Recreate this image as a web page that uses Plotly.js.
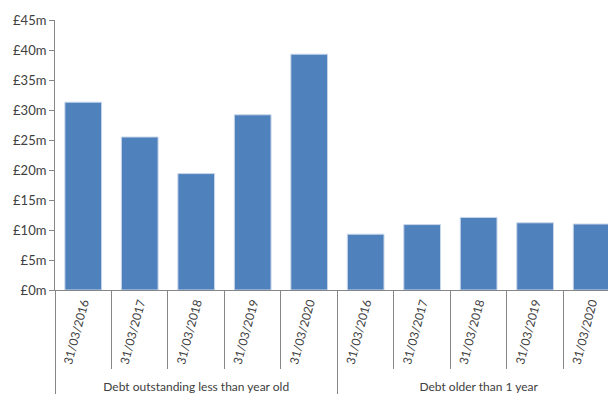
<!DOCTYPE html>
<html>
<head>
<meta charset="utf-8">
<script src="https://cdn.plot.ly/plotly-3.0.1.min.js"></script>
<style>html,body{margin:0;padding:0;overflow:hidden;background:#fff}</style>
</head>
<body>
<div id="chart" style="width:608px;height:394px"></div>
<script>
const groupNames = ["Debt outstanding less than year old", "Debt older than 1 year"];
const dates = ["31/03/2016", "31/03/2017", "31/03/2018", "31/03/2019", "31/03/2020"];
const lessThanYear = [31.3, 25.5, 19.4, 29.2, 39.3];
const olderThanYear = [9.3, 10.9, 12.1, 11.2, 11.0];

const xGroups = [], xDates = [], yVals = [];
dates.forEach((d, i) => { xGroups.push(groupNames[0]); xDates.push(d); yVals.push(lessThanYear[i]); });
dates.forEach((d, i) => { xGroups.push(groupNames[1]); xDates.push(d); yVals.push(olderThanYear[i]); });

const trace = {
  type: 'bar',
  x: [xGroups, xDates],
  y: yVals,
  marker: { color: '#4F81BD', line: { color: '#c9d7ea', width: 1 } },
  hoverinfo: 'y'
};

const layout = {
  width: 608, height: 394,
  margin: { l: 55, r: 0, t: 20, b: 104 },
  paper_bgcolor: '#fff', plot_bgcolor: '#fff',
  bargap: 0.35,
  showlegend: false,
  font: { family: 'Lato, "Open Sans", sans-serif', size: 13, color: '#404040' },
  xaxis: {
    type: 'multicategory',
    range: [-0.5, 9.29],
    tickangle: -75,
    showline: true, linecolor: '#868686', linewidth: 1,
    ticks: 'outside', tickson: 'boundaries', ticklen: 78, tickcolor: '#868686',
    showdividers: true, dividercolor: '#868686', dividerwidth: 1,
    tickfont: { size: 12, color: '#404040' },
    showgrid: false, zeroline: false
  },
  yaxis: {
    range: [0, 45], dtick: 5, tick0: 0,
    tickprefix: '£', ticksuffix: 'm',
    showline: true, linecolor: '#868686', linewidth: 1,
    ticks: 'outside', ticklen: 5, tickcolor: '#868686',
    showgrid: false, zeroline: false,
    tickfont: { size: 13, color: '#404040' }
  }
};

Plotly.newPlot('chart', [trace], layout, { displayModeBar: false, staticPlot: true });
</script>
</body>
</html>
